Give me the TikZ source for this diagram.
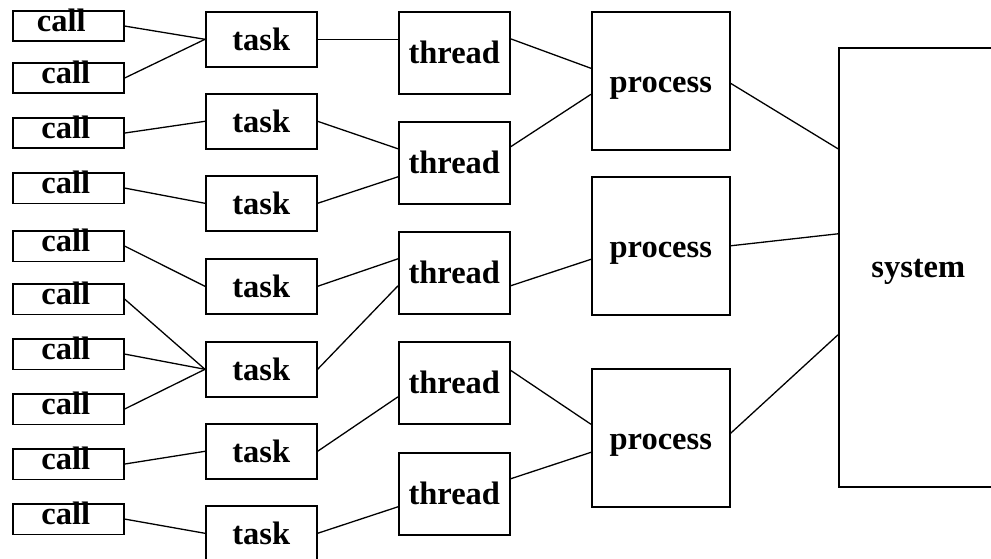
\documentclass[tikz,border=0pt]{standalone}
\usepackage{fontspec}
\setmainfont{Liberation Serif}
\usetikzlibrary{calc}
\begin{document}
\begin{tikzpicture}[x=1pt,y=-1pt,
  box/.style={draw, line width=1.6pt, inner sep=0pt, anchor=north west,
    font=\fontsize{32.5}{36}\selectfont\bfseries},
  callbox/.style={box, minimum width=111pt, text height=21pt, text depth=9.5pt},
  taskbox/.style={box, minimum width=111pt, text height=38.5pt, text depth=16.5pt},
  threadbox/.style={box, minimum width=111pt, text height=52pt, text depth=30pt},
  procbox/.style={box, minimum width=138pt, text height=81pt, text depth=57pt},
  sysbox/.style={box, minimum width=159pt, text height=230pt, text depth=209pt},
  link/.style={line width=1.3pt}]
\clip (0,0) rectangle (991,559);
% calls
\node[callbox] (c1) at (12,10) {call\hspace*{14pt}};
\node[callbox] (c2) at (12,62) {call\hspace*{5pt}};
\node[callbox] (c3) at (12,117) {call\hspace*{5pt}};
\node[callbox] (c4) at (12,172) {call\hspace*{5pt}};
\node[callbox] (c5) at (12,230) {call\hspace*{5pt}};
\node[callbox] (c6) at (12,283) {call\hspace*{5pt}};
\node[callbox] (c7) at (12,338) {call\hspace*{5pt}};
\node[callbox] (c8) at (12,393) {call\hspace*{5pt}};
\node[callbox] (c9) at (12,448) {call\hspace*{5pt}};
\node[callbox] (c10) at (12,503) {call\hspace*{5pt}};
% tasks
\node[taskbox] (t1) at (205,11) {task};
\node[taskbox] (t2) at (205,93) {task};
\node[taskbox] (t3) at (205,175) {task};
\node[taskbox] (t4) at (205,258) {task};
\node[taskbox] (t5) at (205,341) {task};
\node[taskbox] (t6) at (205,423) {task};
\node[taskbox] (t7) at (205,505) {task};
% threads
\node[threadbox] (h1) at (398,11) {thread};
\node[threadbox] (h2) at (398,121) {thread};
\node[threadbox] (h3) at (398,231) {thread};
\node[threadbox] (h4) at (398,341) {thread};
\node[threadbox] (h5) at (398,452) {thread};
% processes
\node[procbox] (p1) at (591,11) {process};
\node[procbox] (p2) at (591,176) {process};
\node[procbox] (p3) at (591,368) {process};
% system
\node[sysbox] (s) at (838,47) {system};
% call -> task
\draw[link] (c1.east) -- (t1.west);
\draw[link] (c2.east) -- (t1.west);
\draw[link] (c3.east) -- (t2.west);
\draw[link] (c4.east) -- (t3.west);
\draw[link] (c5.east) -- (t4.west);
\draw[link] (c6.east) -- (t5.west);
\draw[link] (c7.east) -- (t5.west);
\draw[link] (c8.east) -- (t5.west);
\draw[link] (c9.east) -- (t6.west);
\draw[link] (c10.east) -- (t7.west);
% task -> thread
\draw[link] (t1.east) -- (t1.east -| h1.west);
\draw[link] (t2.east) -- ($(h2.west)+(0,-14)$);
\draw[link] (t3.east) -- ($(h2.west)+(0,14)$);
\draw[link] (t4.east) -- ($(h3.west)+(0,-14)$);
\draw[link] (t5.east) -- ($(h3.west)+(0,13)$);
\draw[link] (t6.east) -- ($(h4.west)+(0,14)$);
\draw[link] (t7.east) -- ($(h5.west)+(0,13)$);
% thread -> process
\draw[link] ($(h1.east)+(0,-14)$) -- ($(p1.west)+(0,-12.5)$);
\draw[link] ($(h2.east)+(0,-16)$) -- ($(p1.west)+(0,13.5)$);
\draw[link] ($(h3.east)+(0,13)$) -- ($(p2.west)+(0,13.5)$);
\draw[link] ($(h4.east)+(0,-12.5)$) -- ($(p3.west)+(0,-13.5)$);
\draw[link] ($(h5.east)+(0,-15)$) -- ($(p3.west)+(0,14.5)$);
% process -> system
\draw[link] ($(p1.east)+(0,2.5)$) -- ($(s.west)+(0,-118.5)$);
\draw[link] (p2.east) -- ($(s.west)+(0,-33.5)$);
\draw[link] ($(p3.east)+(0,-4.5)$) -- ($(s.west)+(0,67.5)$);
\end{tikzpicture}
\end{document}
